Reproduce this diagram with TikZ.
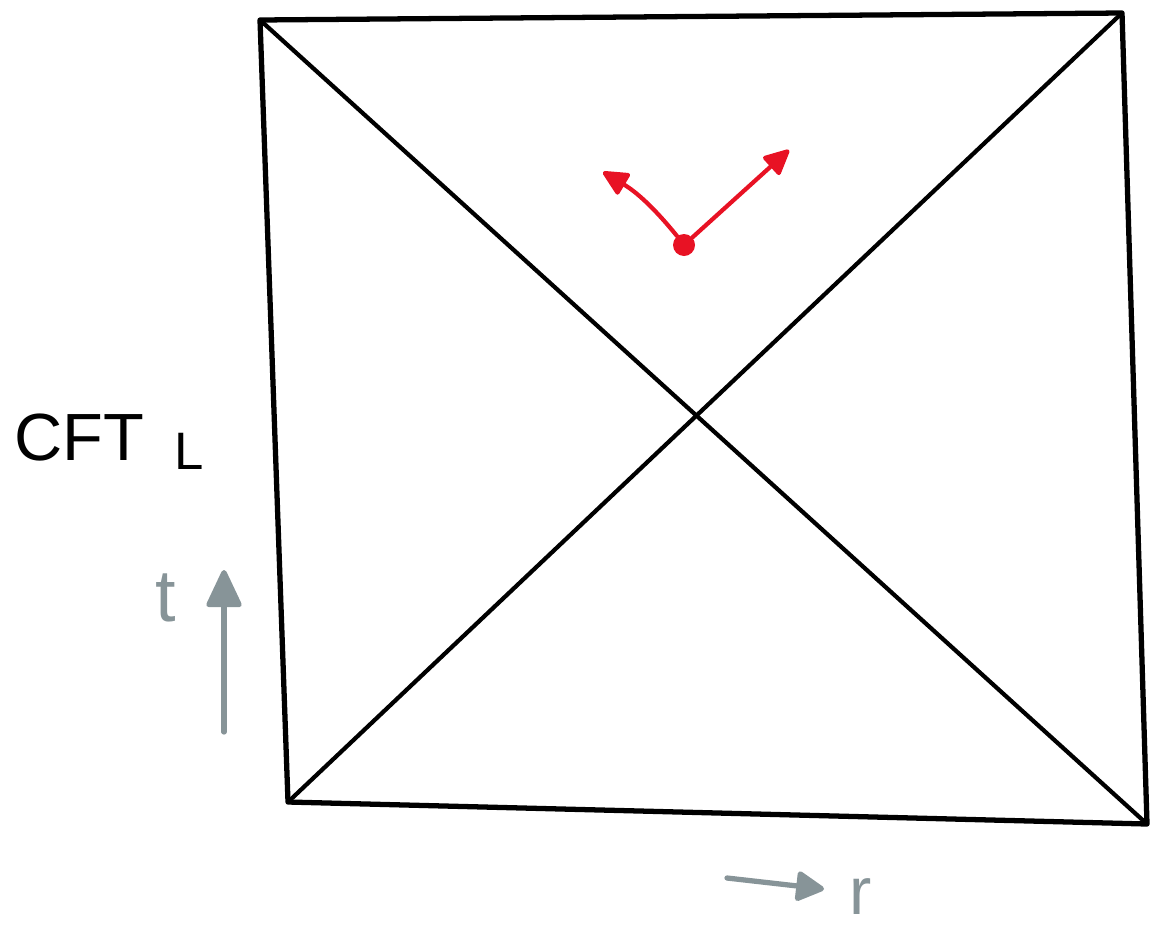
\documentclass[tikz,border=0pt]{standalone}
\usepackage{fontspec}
\setmainfont{Liberation Sans}
\usetikzlibrary{arrows.meta,positioning}
\definecolor{axisgray}{RGB}{135,148,152}
\definecolor{pen}{RGB}{232,18,36}

\begin{document}
\begin{tikzpicture}[x=0.02cm,y=-0.02cm,
  edge/.style={line width=3pt,line cap=round,line join=round},
  diag/.style={line width=2.4pt,line cap=round},
  axis/.style={draw=axisgray,line width=3pt,line cap=round,
    -{Triangle[width=0.74cm,length=0.82cm,round]}},
  vec/.style={draw=pen,line width=2.4pt,line cap=round,
    -{Triangle[width=0.52cm,length=0.56cm,round]}},
  lbl/.style={font=\fontsize{38}{42}\selectfont,inner sep=0pt}]
\useasboundingbox (0,0) rectangle (1151,927);

% ---------- the square ----------
\coordinate (TL) at (260,20);
\coordinate (TR) at (1122,13);
\coordinate (BR) at (1147,824);
\coordinate (BL) at (288,802);
\draw[edge] (TL) -- (TR) -- (BR) -- (BL) -- cycle;

% ---------- diagonals ----------
\draw[diag] (TL) -- (BR);
\draw[diag] (BL) -- (TR);

% ---------- red dot with two arrows ----------
\node[circle,fill=pen,inner sep=0pt,minimum size=0.44cm] (dot) at (684,245) {};
\coordinate (upleft) at (603,172);
\coordinate (upright) at (789,150);
\draw[vec] (dot) to[bend right=10] (upleft);
\draw[vec] (dot) -- (upright);

% ---------- labels ----------
\node[lbl,anchor=west] (cft) at (14,442) {CFT\hspace{0.45em}\raisebox{-5pt}{\fontsize{30}{32}\selectfont L}};

\coordinate (tfoot) at (224,732);
\coordinate (thead) at (224,570);
\draw[axis] (tfoot) -- (thead);
\node[lbl,text=axisgray,font=\fontsize{42}{44}\selectfont] (tlbl) at (166,598) {t};

\coordinate (rfoot) at (727,878);
\coordinate (rhead) at (824,889);
\draw[axis,-{Triangle[width=0.64cm,length=0.62cm,round]}] (rfoot) -- (rhead);
\node[lbl,text=axisgray] (rlbl) at (861,897) {r};
\end{tikzpicture}
\end{document}
